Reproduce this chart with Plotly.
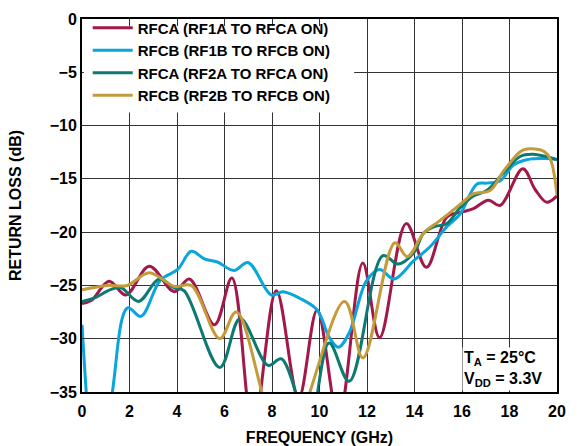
import plotly.graph_objects as go

# Return loss vs. frequency, four switch paths (GHz, dB)
freq_rf1a = [0, 0.4, 1.14, 1.85, 2.83, 3.89, 4.52, 5.58, 6.31, 7.2, 8.18, 9.12, 9.9,
             10.8, 11.82, 12.53, 13.65, 14.5, 15.36, 16.0, 16.48, 17.11, 17.6, 18.56,
             19.08, 19.57, 20]
rl_rf1a = [-26.7, -26.4, -24.6, -25.9, -23.2, -25.6, -24.4, -28.7, -24.3, -38.5, -25.5,
           -35.6, -27.3, -37.5, -22.9, -29.9, -19.2, -23.3, -18.6, -18.1, -17.8, -17.0,
           -17.5, -14.05, -16.0, -17.2, -16.6]

freq_rf1b = [0, 0.7, 1.28, 1.92, 2.48, 3.3, 4.03, 4.6, 5.15, 5.7, 6.4, 6.99, 7.97, 8.46,
             9.16, 9.9, 10.42, 10.8, 11.26, 11.97, 12.53, 13.14, 13.96, 14.66, 15.36,
             15.92, 16.62, 17.04, 17.6, 18.17, 18.73, 19.57, 20]
rl_rf1b = [-28.7, -46.0, -35.0, -27.1, -27.9, -24.5, -23.5, -21.8, -22.5, -22.8, -23.6,
           -22.85, -25.9, -25.6, -26.2, -27.3, -29.9, -30.8, -29.4, -24.6, -23.5, -24.4,
           -22.7, -21.35, -19.5, -18.3, -15.5, -15.4, -15.2, -13.7, -13.2, -13.1, -13.2]

freq_rf2a = [0, 0.5, 1.2, 1.63, 2.38, 3.25, 3.9, 4.3, 5.8, 6.66, 7.83, 8.4, 9.55, 10.4,
             11.25, 12.67, 13.3, 13.96, 14.38, 14.8, 15.36, 15.92, 16.48, 17.04, 17.74,
             18.45, 19.0, 20]
rl_rf2a = [-26.5, -26.2, -25.4, -25.2, -26.5, -24.4, -25.25, -25.5, -32.7, -28.1, -32.5,
           -31.9, -38.0, -30.4, -34.0, -22.2, -23.0, -21.96, -20.1, -19.5, -19.2, -17.7,
           -16.6, -16.1, -14.45, -12.9, -12.7, -13.2]

freq_rf2b = [0, 1.07, 1.9, 2.83, 3.9, 4.6, 5.8, 6.5, 8.5, 11.05, 11.83, 13.17, 13.7,
             14.38, 15.08, 15.92, 16.48, 17.18, 17.74, 18.45, 18.73, 19.43, 19.71, 20]
rl_rf2b = [-25.4, -25.0, -25.0, -23.8, -25.1, -25.0, -30.0, -27.5, -40.0, -26.5, -31.8,
           -21.0, -22.3, -20.1, -18.9, -17.4, -16.4, -16.1, -14.3, -12.45, -12.2, -12.4,
           -13.1, -16.5]

series_names = ["RFCA (RF1A TO RFCA ON)", "RFCB (RF1B TO RFCB ON)",
                "RFCA (RF2A TO RFCA ON)", "RFCB (RF2B TO RFCB ON)"]
series_colors = ["#A3184A", "#0AA5DD", "#0C7A73", "#C49A3A"]
series_data = [(freq_rf1a, rl_rf1a), (freq_rf1b, rl_rf1b),
               (freq_rf2a, rl_rf2a), (freq_rf2b, rl_rf2b)]

x_ticks = list(range(0, 21, 2))
y_ticks = list(range(-35, 1, 5))

FONT = "Arial, 'Liberation Sans', sans-serif"
TXT = dict(family=FONT, size=16, color="black", weight="bold")
LEG = dict(family=FONT, size=15, color="black", weight="bold")

fig = go.Figure()
for name, color, (fx, fy) in zip(series_names, series_colors, series_data):
    fig.add_trace(go.Scatter(
        x=fx, y=fy, mode="lines", name=name,
        line=dict(color=color, width=3, shape="spline", smoothing=1.0),
    ))

axis_common = dict(
    showgrid=True, gridcolor="#333333", gridwidth=1,
    showline=True, linecolor="black", linewidth=2, mirror=True,
    zeroline=False, automargin=False,
    ticks="inside", ticklen=7, tickcolor="#333333", tickwidth=1,
    tickfont=TXT,
)

fig.update_layout(
    width=582, height=446,
    margin=dict(l=82, r=25, t=13, b=54),
    paper_bgcolor="white", plot_bgcolor="white",
    font=TXT,
    xaxis=dict(
        range=[0, 20], tickvals=x_ticks, ticktext=[str(v) for v in x_ticks],
        ticklabelstandoff=4,
        title=dict(text="FREQUENCY (GHz)", standoff=20, font=TXT),
        **axis_common,
    ),
    yaxis=dict(
        range=[-35, 0], tickvals=y_ticks,
        title=dict(text="RETURN LOSS (dB)", standoff=24, font=TXT),
        **axis_common,
    ),
    legend=dict(
        x=0.012, y=1.02, xanchor="left", yanchor="top",
        bgcolor="rgba(0,0,0,0)", borderwidth=0,
        font=LEG, itemwidth=40, tracegroupgap=0,
    ),
    showlegend=True,
    # white panel behind the legend, kept below the top tick marks
    shapes=[dict(
        type="rect", xref="paper", yref="paper", layer="above",
        x0=0.004, x1=0.573, y0=0.749, y1=0.9815,
        fillcolor="white", line=dict(width=0),
    )],
    annotations=[dict(
        xref="paper", yref="paper", x=0.80, y=0.062,
        xanchor="left", yanchor="middle", align="left", showarrow=False,
        text="T<sub>A</sub> = 25°C<br>V<sub>DD</sub> = 3.3V",
        font=TXT, bgcolor="white",
    )],
)

fig.write_html("out.html")
